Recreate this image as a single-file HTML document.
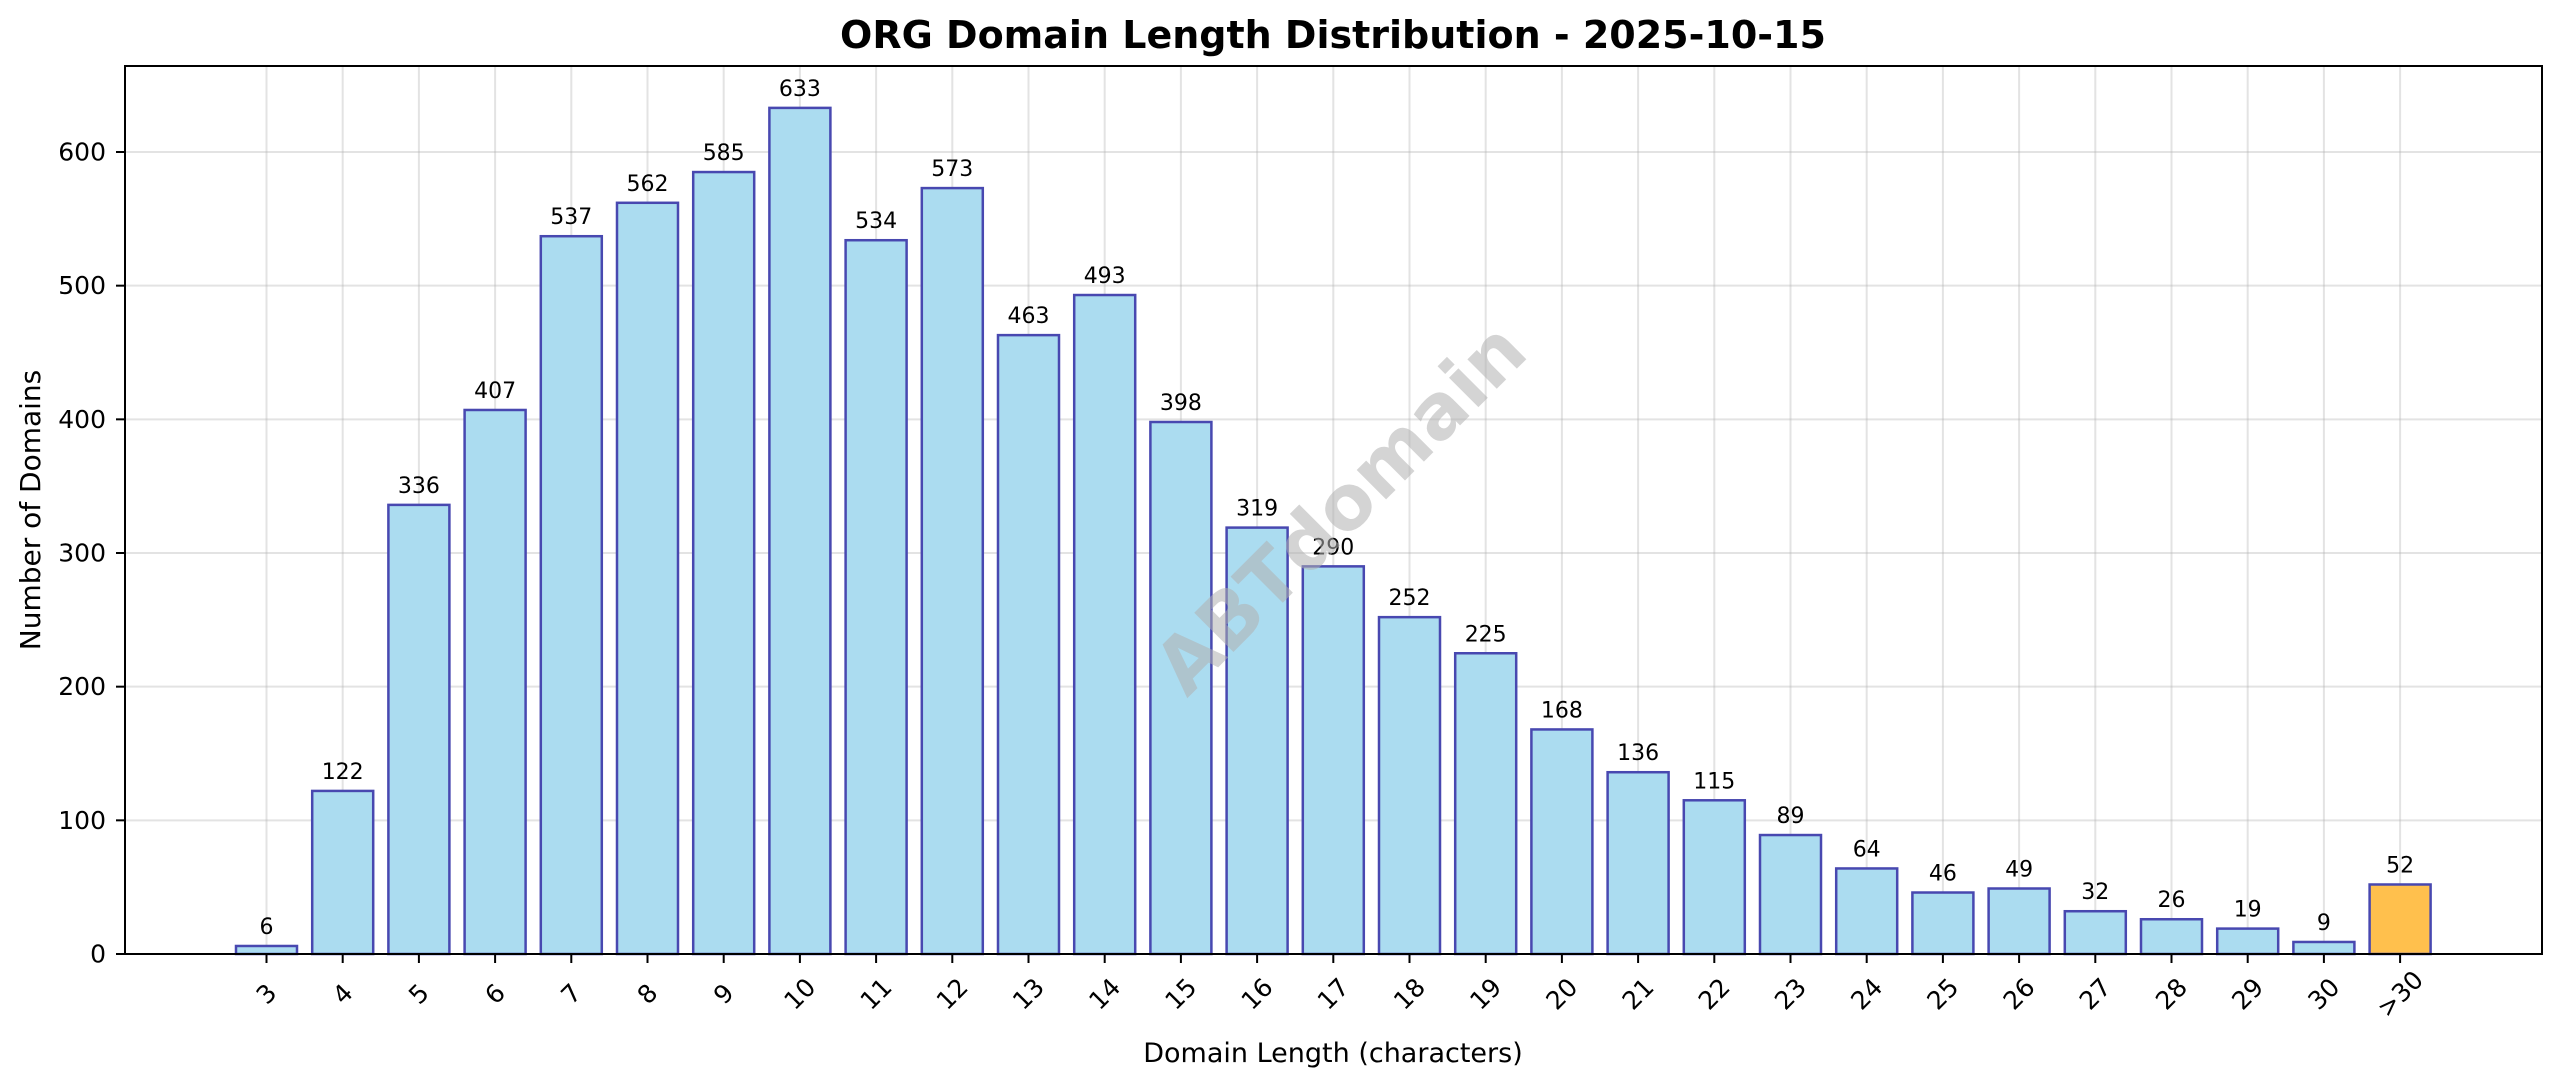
<!DOCTYPE html>
<html><head><meta charset="utf-8"><style>
html,body{margin:0;padding:0;background:#fff;}
svg{display:block;font-family:"DejaVu Sans","Liberation Sans",sans-serif;}
</style></head><body>
<svg id="chart" width="2560" height="1087" viewBox="0 0 2560 1087" xmlns="http://www.w3.org/2000/svg">
<rect width="2560" height="1087" fill="#fff"/>
<g id="grid"></g>
<g id="bars"></g>
<g id="labels"></g>
<text x="1340" y="508" transform="rotate(-45 1340 508)" text-anchor="middle" dominant-baseline="central" font-size="76" font-weight="bold" fill="#b0b0b0" fill-opacity="0.55">ABTdomain</text>
<rect x="125" y="66" width="2417" height="888" fill="none" stroke="#000" stroke-width="2"/>
<g id="xticks"></g>
<g id="yticks"></g>
<text x="1333" y="48" text-anchor="middle" font-size="38" font-weight="bold">ORG Domain Length Distribution - 2025-10-15</text>
<text x="1333" y="1062" text-anchor="middle" font-size="27">Domain Length (characters)</text>
<text x="40" y="510" transform="rotate(-90 40 510)" text-anchor="middle" font-size="28">Number of Domains</text>
</svg>
<script>
const categories = ["3","4","5","6","7","8","9","10","11","12","13","14","15","16","17","18","19","20","21","22","23","24","25","26","27","28","29","30",">30"];
const counts = [6,122,336,407,537,562,585,633,534,573,463,493,398,319,290,252,225,168,136,115,89,64,46,49,32,26,19,9,52];
const yTicks = [0,100,200,300,400,500,600];
const NS = "http://www.w3.org/2000/svg";
const x0 = 266.5, step = 76.2, barW = 61;
const yBase = 954, pxPerUnit = 802/600;
function xScale(i){ return x0 + i*step; }
function yScale(v){ return yBase - v*pxPerUnit; }
function mk(tag, attrs, parent){ const e=document.createElementNS(NS,tag); for(const k in attrs) e.setAttribute(k, attrs[k]); parent.appendChild(e); return e; }
const grid=document.getElementById('grid'), bars=document.getElementById('bars'), labels=document.getElementById('labels'), xt=document.getElementById('xticks'), yt=document.getElementById('yticks');
yTicks.forEach(v=>{
  const y=yScale(v);
  const g=mk('line',{x1:125,x2:2542,y1:y,y2:y,stroke:'#b0b0b0','stroke-opacity':0.35,'stroke-width':2},grid);
  
  
  const t=mk('line',{x1:116,x2:125,y1:y,y2:y,stroke:'#000','stroke-width':2},yt);
  
  
  const l=mk('text',{x:106,y:y,'text-anchor':'end','dominant-baseline':'central','font-size':25},yt);
  l.textContent=v;
  
  
});
categories.forEach((c,i)=>{
  const x=xScale(i);
  const g=mk('line',{x1:x,x2:x,y1:66,y2:954,stroke:'#b0b0b0','stroke-opacity':0.35,'stroke-width':2},grid);
  
  
  const top=yScale(counts[i]);
  const isLast = i===categories.length-1;
  const r=mk('rect',{x:x-barW/2,y:top,width:barW,height:yBase-top,fill:isLast?'#ffc04d':'#abdcf0',stroke:'#4848b0','stroke-width':2.5},bars);
  
  
  const vl=mk('text',{x:x,y:top-12,'text-anchor':'middle','font-size':22},labels);
  vl.textContent=counts[i];
  
  
  const t=mk('line',{x1:x,x2:x,y1:954,y2:963,stroke:'#000','stroke-width':2},xt);
  
  
  const l=mk('text',{x:x,y:994,'text-anchor':'middle','dominant-baseline':'central','font-size':25,transform:'rotate(-45 '+x+' 994)'},xt);
  l.textContent=c;
  
  
});
</script>
</body></html>
